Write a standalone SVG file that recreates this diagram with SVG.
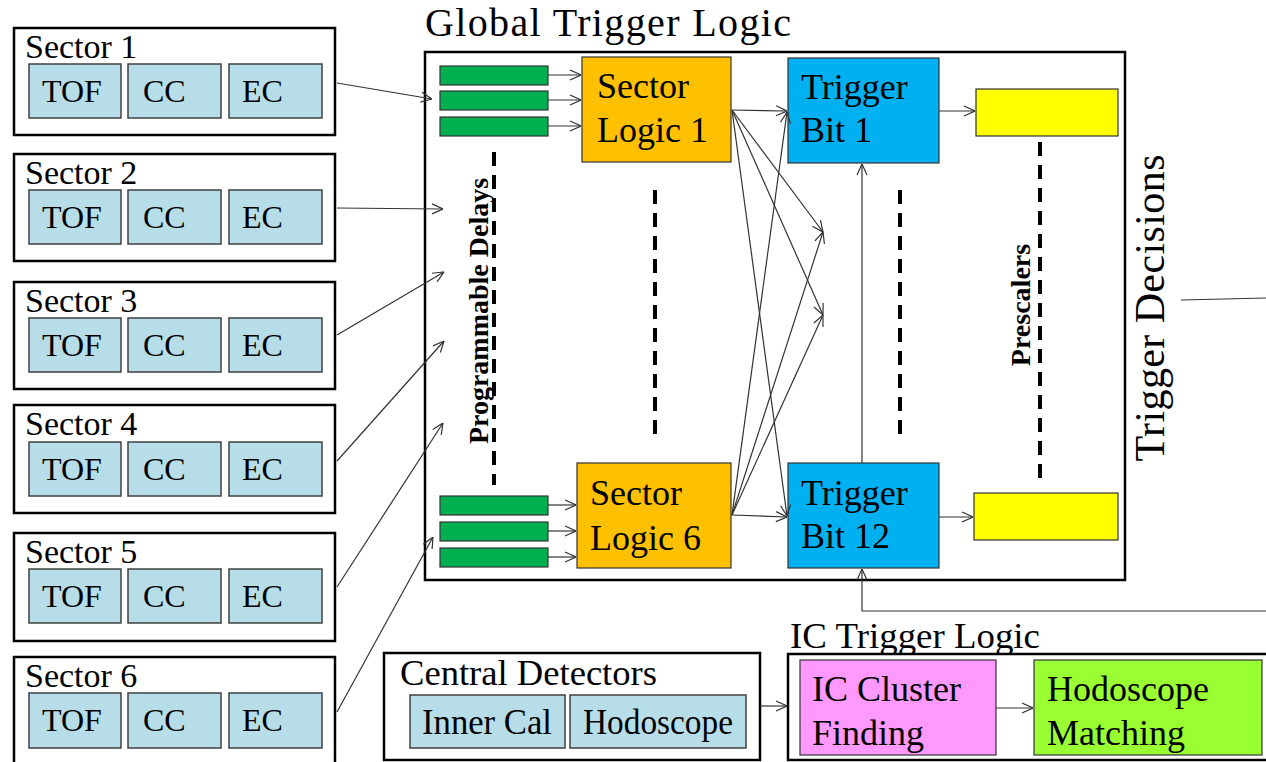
<svg xmlns="http://www.w3.org/2000/svg" width="1266" height="762" viewBox="0 0 1266 762">
<defs>
<marker id="arr" viewBox="0 0 12 12" refX="12" refY="6" markerWidth="12" markerHeight="12" markerUnits="userSpaceOnUse" orient="auto">
<path d="M1,1 L12,6 L1,11" fill="none" stroke="#333" stroke-width="1.2"/>
</marker>
<style>
text{font-family:"Liberation Serif","Times New Roman",serif;fill:#000}
.outer{fill:#fff;stroke:#000;stroke-width:2.5}
.inner{fill:#B7DEE8;stroke:#404040;stroke-width:1.5}
.lbl{font-size:34px}
.t32{font-size:32px}
.t36{font-size:36px}
.cond{font-size:36px}
.green{fill:#00B050;stroke:#333;stroke-width:1.2}
.orange{fill:#FFC000;stroke:#333;stroke-width:1.2}
.blue{fill:#00B0F0;stroke:#333;stroke-width:1.2}
.yellow{fill:#FFFF00;stroke:#333;stroke-width:1.2}
.dash{stroke:#000;stroke-width:4;stroke-dasharray:14 9;fill:none}
.conn line,.conn polyline{stroke:#333;stroke-width:1.2;fill:none}
.bold{font-weight:bold;font-size:28px}
</style>
</defs>

<g id="sector1">
<rect class="outer" x="14" y="28" width="321" height="107"/>
<text class="lbl" x="25" y="58">Sector 1</text>
<rect class="inner" x="29" y="64" width="92" height="54"/><text class="t32" x="42" y="102">TOF</text>
<rect class="inner" x="128" y="64" width="93" height="54"/><text class="t32" x="143" y="102">CC</text>
<rect class="inner" x="229" y="64" width="93" height="54"/><text class="t32" x="242" y="102">EC</text>
</g>
<g id="sector2">
<rect class="outer" x="14" y="154" width="321" height="107"/>
<text class="lbl" x="25" y="184">Sector 2</text>
<rect class="inner" x="29" y="190" width="92" height="54"/><text class="t32" x="42" y="228">TOF</text>
<rect class="inner" x="128" y="190" width="93" height="54"/><text class="t32" x="143" y="228">CC</text>
<rect class="inner" x="229" y="190" width="93" height="54"/><text class="t32" x="242" y="228">EC</text>
</g>
<g id="sector3">
<rect class="outer" x="14" y="282" width="321" height="107"/>
<text class="lbl" x="25" y="312">Sector 3</text>
<rect class="inner" x="29" y="318" width="92" height="54"/><text class="t32" x="42" y="356">TOF</text>
<rect class="inner" x="128" y="318" width="93" height="54"/><text class="t32" x="143" y="356">CC</text>
<rect class="inner" x="229" y="318" width="93" height="54"/><text class="t32" x="242" y="356">EC</text>
</g>
<g id="sector4">
<rect class="outer" x="14" y="405" width="321" height="108"/>
<text class="lbl" x="25" y="435">Sector 4</text>
<rect class="inner" x="29" y="442" width="92" height="54"/><text class="t32" x="42" y="480">TOF</text>
<rect class="inner" x="128" y="442" width="93" height="54"/><text class="t32" x="143" y="480">CC</text>
<rect class="inner" x="229" y="442" width="93" height="54"/><text class="t32" x="242" y="480">EC</text>
</g>
<g id="sector5">
<rect class="outer" x="14" y="533" width="321" height="108"/>
<text class="lbl" x="25" y="563">Sector 5</text>
<rect class="inner" x="29" y="569" width="92" height="54"/><text class="t32" x="42" y="607">TOF</text>
<rect class="inner" x="128" y="569" width="93" height="54"/><text class="t32" x="143" y="607">CC</text>
<rect class="inner" x="229" y="569" width="93" height="54"/><text class="t32" x="242" y="607">EC</text>
</g>
<g id="sector6">
<rect class="outer" x="14" y="657" width="321" height="110"/>
<text class="lbl" x="25" y="687">Sector 6</text>
<rect class="inner" x="29" y="693" width="92" height="55"/><text class="t32" x="42" y="731">TOF</text>
<rect class="inner" x="128" y="693" width="93" height="55"/><text class="t32" x="143" y="731">CC</text>
<rect class="inner" x="229" y="693" width="93" height="55"/><text class="t32" x="242" y="731">EC</text>
</g>

<g id="global-trigger-logic">
<text x="425" y="36" style="font-size:40px" textLength="366">Global Trigger Logic</text>
<rect class="outer" x="425" y="52" width="700" height="528"/>
</g>

<g id="delays-top">
<rect class="green" x="440" y="66" width="108" height="19"/>
<rect class="green" x="440" y="91" width="108" height="19"/>
<rect class="green" x="440" y="117" width="108" height="19"/>
</g>
<g id="delays-bottom">
<rect class="green" x="440" y="496" width="108" height="19"/>
<rect class="green" x="440" y="522" width="108" height="19"/>
<rect class="green" x="440" y="548" width="108" height="19"/>
</g>
<g id="programmable-delays-label">
<line class="dash" x1="494" y1="152" x2="494" y2="485"/>
<text class="bold" transform="translate(488,311) rotate(-90)" text-anchor="middle">Programmable Delays</text>
</g>

<g id="sector-logic-1">
<rect class="orange" x="582" y="57" width="149" height="105"/>
<text class="t36" x="597" y="98">Sector</text>
<text class="t36" x="597" y="142">Logic 1</text>
</g>
<g id="sector-logic-6">
<rect class="orange" x="577" y="463" width="154" height="105"/>
<text class="t36" x="590" y="505">Sector</text>
<text class="t36" x="590" y="550">Logic 6</text>
</g>
<line class="dash" x1="655" y1="190" x2="655" y2="440"/>

<g id="trigger-bit-1">
<rect class="blue" x="788" y="58" width="151" height="105"/>
<text class="t36" x="801" y="99">Trigger</text>
<text class="t36" x="801" y="142">Bit 1</text>
</g>
<g id="trigger-bit-12">
<rect class="blue" x="788" y="463" width="151" height="105"/>
<text class="t36" x="801" y="505">Trigger</text>
<text class="t36" x="801" y="548">Bit 12</text>
</g>
<line class="dash" x1="900" y1="190" x2="900" y2="442"/>

<g id="prescaler-1"><rect class="yellow" x="976" y="89" width="142" height="47"/></g>
<g id="prescaler-12"><rect class="yellow" x="974" y="493" width="144" height="47"/></g>
<g id="prescalers-label">
<line class="dash" x1="1040" y1="142" x2="1040" y2="480"/>
<text class="bold" transform="translate(1030,305) rotate(-90)" text-anchor="middle">Prescalers</text>
</g>

<g id="trigger-decisions">
<text transform="translate(1164,308) rotate(-90)" text-anchor="middle" style="font-size:42px" textLength="307">Trigger Decisions</text>
</g>

<g id="central-detectors">
<rect class="outer" x="384" y="653" width="376" height="107"/>
<text class="cond" x="400" y="685" textLength="257" lengthAdjust="spacingAndGlyphs">Central Detectors</text>
<rect class="inner" x="410" y="695" width="155" height="53"/>
<text class="cond" x="422" y="734" textLength="130" lengthAdjust="spacingAndGlyphs">Inner Cal</text>
<rect class="inner" x="570" y="695" width="176" height="53"/>
<text class="cond" x="583" y="734" textLength="150" lengthAdjust="spacingAndGlyphs">Hodoscope</text>
</g>

<g id="ic-trigger-logic">
<text class="cond" x="790" y="648" textLength="250" lengthAdjust="spacingAndGlyphs">IC Trigger Logic</text>
<rect class="outer" x="788" y="654" width="500" height="106"/>
</g>
<g id="ic-cluster-finding">
<rect x="800" y="660" width="196" height="95" fill="#FF99FF" stroke="#333" stroke-width="1.2"/>
<text class="t36" x="812" y="701">IC Cluster</text>
<text class="t36" x="812" y="745">Finding</text>
</g>
<g id="hodoscope-matching">
<rect x="1034" y="660" width="228" height="95" fill="#99FF33" stroke="#333" stroke-width="1.2"/>
<text class="t36" x="1047" y="701">Hodoscope</text>
<text class="t36" x="1047" y="745">Matching</text>
</g>

<g id="connectors" class="conn">
<line x1="337" y1="83" x2="432" y2="99" marker-end="url(#arr)"/>
<line x1="337" y1="208" x2="443" y2="209" marker-end="url(#arr)"/>
<line x1="337" y1="335" x2="444" y2="272" marker-end="url(#arr)"/>
<line x1="337" y1="461" x2="444" y2="341" marker-end="url(#arr)"/>
<line x1="337" y1="587" x2="443" y2="423" marker-end="url(#arr)"/>
<line x1="337" y1="712" x2="433" y2="537" marker-end="url(#arr)"/>

<line x1="548" y1="75" x2="581" y2="75" marker-end="url(#arr)"/>
<line x1="548" y1="100" x2="581" y2="100" marker-end="url(#arr)"/>
<line x1="548" y1="126" x2="581" y2="126" marker-end="url(#arr)"/>
<line x1="548" y1="505" x2="576" y2="505" marker-end="url(#arr)"/>
<line x1="548" y1="531" x2="576" y2="531" marker-end="url(#arr)"/>
<line x1="548" y1="557" x2="576" y2="557" marker-end="url(#arr)"/>

<line x1="732" y1="110" x2="787" y2="111" marker-end="url(#arr)"/>
<line x1="732" y1="110" x2="823" y2="232" marker-end="url(#arr)"/>
<line x1="732" y1="110" x2="823" y2="315" marker-end="url(#arr)"/>
<line x1="732" y1="110" x2="787" y2="516" marker-end="url(#arr)"/>
<line x1="732" y1="515" x2="787" y2="112" marker-end="url(#arr)"/>
<line x1="732" y1="515" x2="823" y2="232" marker-end="url(#arr)"/>
<line x1="732" y1="515" x2="823" y2="315" marker-end="url(#arr)"/>
<line x1="732" y1="515" x2="787" y2="517" marker-end="url(#arr)"/>

<line x1="939" y1="111" x2="975" y2="111" marker-end="url(#arr)"/>
<line x1="939" y1="517" x2="973" y2="517" marker-end="url(#arr)"/>

<line x1="862" y1="463" x2="862" y2="164" marker-end="url(#arr)"/>
<polyline points="1266,611 862,611 862,569" marker-end="url(#arr)"/>
<line x1="1181" y1="300" x2="1266" y2="298"/>

<line x1="760" y1="706" x2="787" y2="706" marker-end="url(#arr)"/>
<line x1="996" y1="708" x2="1033" y2="708" marker-end="url(#arr)"/>
</g>
</svg>
